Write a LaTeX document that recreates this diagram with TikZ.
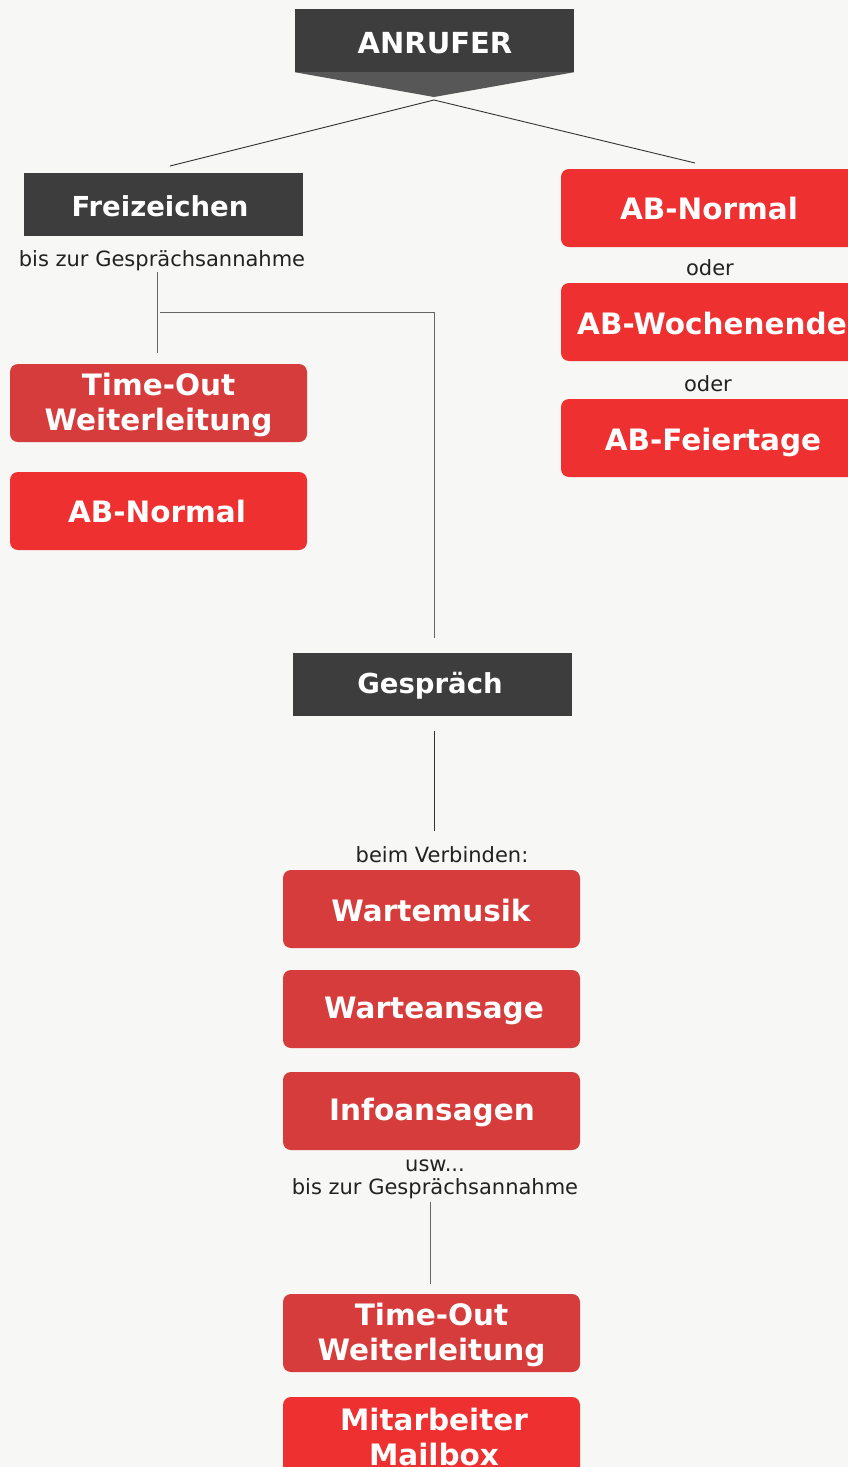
\documentclass[tikz,border=0pt]{standalone}
\usepackage{fontspec}
\setmainfont{DejaVu Sans}
\definecolor{bg}{HTML}{F7F7F5}
\definecolor{darkbox}{HTML}{3D3D3D}
\definecolor{tipgray}{HTML}{575757}
\definecolor{redA}{HTML}{D63C3C}
\definecolor{redB}{HTML}{EE3030}
\definecolor{txt}{HTML}{222222}
\definecolor{linec}{HTML}{333333}
\tikzset{
  darknode/.style={fill=darkbox, minimum width=279pt, minimum height=63pt, inner sep=0pt, anchor=center},
  darklabel/.style={text=white, font=\bfseries\fontsize{27.5}{33}\selectfont, inner sep=0pt},
  redbox/.style={rounded corners=8pt, minimum width=297pt, minimum height=78pt, inner sep=0pt},
  redsoft/.style={redbox, fill=redA},
  redhard/.style={redbox, fill=redB},
  boxlabel/.style={text=white, font=\bfseries\fontsize{29.5}{35.5}\selectfont, inner sep=0pt, align=center},
  smalltext/.style={text=txt, font=\fontsize{21}{23}\selectfont, inner sep=0pt, align=center},
  conn/.style={draw=linec, line width=0.9pt},
  conngray/.style={draw=black!60, line width=0.9pt}
}
\begin{document}
\begin{tikzpicture}[x=1pt,y=-1pt]
\clip (0,0) rectangle (848,1467);
\fill[bg] (0,0) rectangle (848,1467);
% top
\node[darknode] (anrufer) at (434.5,40.5) {};
\node[darklabel, font=\bfseries\fontsize{29}{33}\selectfont] (anrufert) at (435,43) {ANRUFER};
\coordinate (tipend) at (434,97);
\fill[tipgray] (anrufer.south west) -- (anrufer.south east) -- (tipend) -- cycle;
\coordinate (tip) at (434,100);
\coordinate (lend) at (170,166);
\coordinate (rend) at (695,163);
\draw[conn] (lend) -- (tip) -- (rend);
% left branch
\node[darknode] (frei) at (163.5,204.5) {};
\node[darklabel] (freit) at (160,206) {Freizeichen};
\node[smalltext] (bis1) at (162,261) {bis zur Gesprächsannahme};
\coordinate (a1) at (157,272);
\coordinate (a2) at (157,353);
\draw[conngray] (a1) -- (a2);
\coordinate (b1) at (160,312);
\coordinate (b2) at (434,312);
\coordinate (b3) at (434,638);
\draw[conngray] (b1) -- (b2) -- (b3);
\node[redsoft] (to1) at (158.5,403) {};
\node[boxlabel] (to1t) at (158.5,405) {Time-Out\\Weiterleitung};
\node[redhard] (abn1) at (158.5,511) {};
\node[boxlabel] (abn1t) at (157,511) {AB-Normal};
% right branch
\node[redhard, minimum width=310pt] (abn2) at (716,208) {};
\node[smalltext] (oder1) at (710,268) {oder};
\node[redhard, minimum width=310pt] (abw) at (716,322) {};
\node[smalltext] (oder2) at (708,384) {oder};
\node[redhard, minimum width=310pt] (abf) at (716,438) {};
\node[boxlabel] (abn2t) at (709,208) {AB-Normal};
\node[boxlabel] (abwt) at (712,323) {AB-Wochenende};
\node[boxlabel] (abft) at (713,442) {AB-Feiertage};
% middle
\node[darknode] (gesp) at (432.5,684.5) {};
\node[darklabel] (gespt) at (430,686) {Gespräch};
\coordinate (c1) at (434,731);
\coordinate (c2) at (434,831);
\draw[conn] (c1) -- (c2);
\node[smalltext] (beim) at (442,855) {beim Verbinden:};
\node[redsoft] (wm) at (431.5,909) {};
\node[boxlabel] (wmt) at (431,910) {Wartemusik};
\node[redsoft] (wa) at (431.5,1009) {};
\node[boxlabel] (wat) at (434,1011) {Warteansage};
\node[redsoft] (ia) at (431.5,1111) {};
\node[boxlabel] (iat) at (432,1112) {Infoansagen};
\node[smalltext] (usw) at (435,1179) {usw...\\bis zur Gesprächsannahme};
\coordinate (d1) at (430,1202);
\coordinate (d2) at (430,1284);
\draw[conngray] (d1) -- (d2);
\node[redsoft] (to2) at (431.5,1333) {};
\node[boxlabel] (to2t) at (431.5,1335) {Time-Out\\Weiterleitung};
\node[redhard] (mm) at (431.5,1436) {};
\node[boxlabel] (mmt) at (434,1437) {Mitarbeiter\\Mailbox};
\end{tikzpicture}
\end{document}
